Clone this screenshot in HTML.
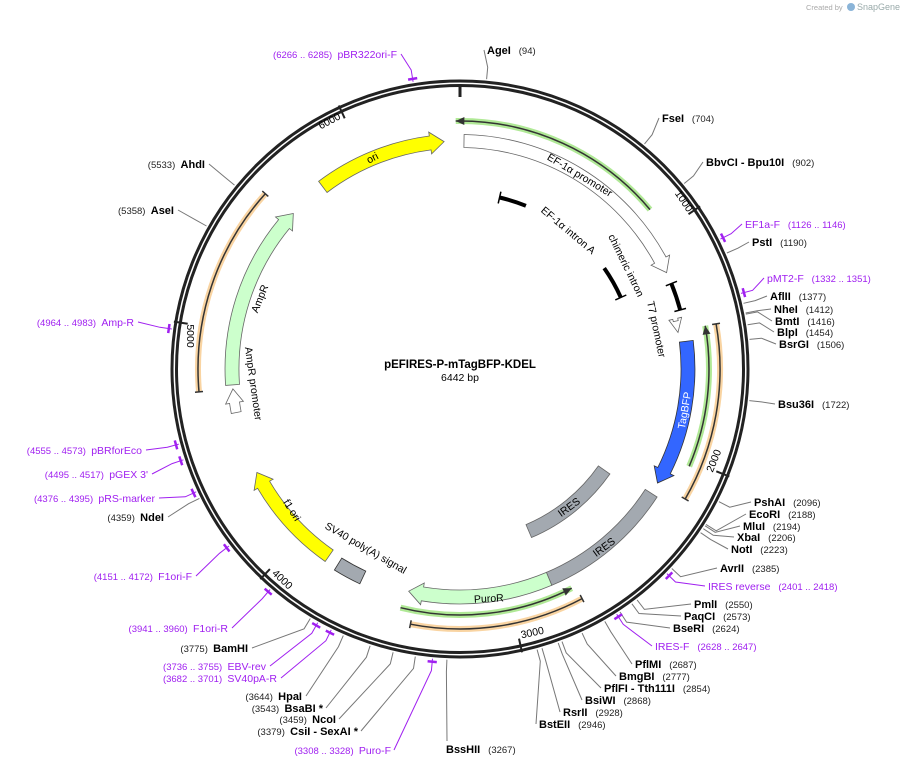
<!DOCTYPE html>
<html><head><meta charset="utf-8"><style>
html,body{margin:0;padding:0;background:#fff;}
svg{display:block;font-family:"Liberation Sans","DejaVu Sans",sans-serif;}
.n{font-weight:bold;font-size:11px;fill:#000}
.b{font-size:9.5px;fill:#222}
.p{font-size:10.5px;fill:#a020f0}
.pn{font-size:9.5px;fill:#a020f0}
.f{font-size:10.5px;fill:#000}
</style></head><body>
<svg id="s" width="903" height="767" viewBox="0 0 903 767" xmlns="http://www.w3.org/2000/svg">
<text x="806" y="10" font-size="7.5" fill="#aaa">Created by</text>
<circle cx="851" cy="7" r="4" fill="#8ab4d8"/>
<text x="857" y="10" font-size="9" fill="#9aa">SnapGene</text>
<g id="lines"></g>
<circle cx="460" cy="369" r="288" fill="none" stroke="#222" stroke-width="3"/>
<circle cx="460" cy="369" r="283.5" fill="none" stroke="#222" stroke-width="3"/>
<g id="feat"></g>
<text x="460" y="368" text-anchor="middle" font-weight="bold" font-size="11.5">pEFIRES-P-mTagBFP-KDEL</text>
<text x="460" y="381" text-anchor="middle" font-size="10.5">6442 bp</text>
<text class="f" transform="translate(578,178) rotate(31)" text-anchor="middle">EF-1α promoter</text>
<text class="f" transform="translate(566,233) rotate(40)" text-anchor="middle">EF-1α intron A</text>
<text class="f" transform="translate(623,267) rotate(64)" text-anchor="middle">chimeric intron</text>
<text class="f" transform="translate(653,330) rotate(78)" text-anchor="middle">T7 promoter</text>
<text class="f" style="fill:#fff" transform="translate(688,411) rotate(-80)" text-anchor="middle">TagBFP</text>
<text class="f" transform="translate(571,510) rotate(-36)" text-anchor="middle">IRES</text>
<text class="f" transform="translate(606,550) rotate(-36)" text-anchor="middle">IRES</text>
<text class="f" transform="translate(489,602) rotate(-3)" text-anchor="middle">PuroR</text>
<text class="f" transform="translate(364,551) rotate(30)" text-anchor="middle">SV40 poly(A) signal</text>
<text class="f" transform="translate(289,512) rotate(58)" text-anchor="middle">f1 ori</text>
<text class="f" transform="translate(263,300) rotate(-68)" text-anchor="middle">AmpR</text>
<text class="f" transform="translate(250,384) rotate(82)" text-anchor="middle">AmpR promoter</text>
<text class="f" transform="translate(374,161) rotate(-28)" text-anchor="middle">ori</text>
<text class="f" transform="translate(681,203) rotate(56)" text-anchor="middle">1000</text>
<text class="f" transform="translate(717,462) rotate(-68)" text-anchor="middle">2000</text>
<text class="f" transform="translate(533,636) rotate(-12)" text-anchor="middle">3000</text>
<text class="f" transform="translate(280,582) rotate(43)" text-anchor="middle">4000</text>
<text class="f" transform="translate(187,336) rotate(90)" text-anchor="middle">5000</text>
<text class="f" transform="translate(331,124) rotate(-28)" text-anchor="middle">6000</text>
<g id="labs"></g>
</svg>
<script>
var NS="http://www.w3.org/2000/svg",CX=460,CY=369;
function P(r,a){a=a*Math.PI/180;return [CX+r*Math.sin(a),CY-r*Math.cos(a)];}
function pt(p){return p[0].toFixed(1)+","+p[1].toFixed(1);}
function el(g,t,at){var e=document.createElementNS(NS,t);for(var k in at)e.setAttribute(k,at[k]);document.getElementById(g).appendChild(e);return e;}
function arc(r,a0,a1){var l=Math.abs(a1-a0)>180?1:0,sw=a1>a0?1:0;return "M"+pt(P(r,a0))+" A"+r+","+r+" 0 "+l+","+sw+" "+pt(P(r,a1));}
function band(r,a0,a1,w,dir,fill,stroke){
 var h=dir?14/r*180/Math.PI:0,ro=r+w/2,ri=r-w/2,d;
 if(dir==1){var e=a1-h;d="M"+pt(P(ro,a0))+arc(ro,a0,e).replace(/^M[^A]*/," ")+" L"+pt(P(ro+4,e))+" L"+pt(P(r,a1))+" L"+pt(P(ri-4,e))+" L"+pt(P(ri,e))+arc(ri,e,a0).replace(/^M[^A]*/," ")+"Z";}
 else if(dir==-1){var s=a0+h;d="M"+pt(P(ro,a1))+arc(ro,a1,s).replace(/^M[^A]*/," ")+" L"+pt(P(ro+4,s))+" L"+pt(P(r,a0))+" L"+pt(P(ri-4,s))+" L"+pt(P(ri,s))+arc(ri,s,a1).replace(/^M[^A]*/," ")+"Z";}
 else{d="M"+pt(P(ro,a0))+arc(ro,a0,a1).replace(/^M[^A]*/," ")+" L"+pt(P(ri,a1))+arc(ri,a1,a0).replace(/^M[^A]*/," ")+"Z";}
 el("feat","path",{d:d,fill:fill,stroke:stroke||"#666","stroke-width":"0.8"});
}
function primer(r,a0,a1,col,dir){
 el("feat","path",{d:arc(r,a0,a1),fill:"none",stroke:col,"stroke-width":"6","stroke-opacity":"0.7"});
 el("feat","path",{d:arc(r,a0,a1),fill:"none",stroke:"#333","stroke-width":"1.5"});
 if(dir){var a=dir==1?a1:a0,b=dir==1?a1-2:a0+2;
  el("feat","path",{d:"M"+pt(P(r+4,b))+" L"+pt(P(r,a))+" L"+pt(P(r-4,b))+"Z",fill:"#333"});}
 else{[a0,a1].forEach(function(a){el("feat","path",{d:"M"+pt(P(r-4,a))+" L"+pt(P(r+4,a)),stroke:"#333","stroke-width":"1.5"});});}
}
function blk(r,a0,a1,g0,g1){
 if(g0){el("feat","path",{d:arc(r,a0,g0),fill:"none",stroke:"#000","stroke-width":"4"});el("feat","path",{d:arc(r,g1,a1),fill:"none",stroke:"#000","stroke-width":"4"});}
 else el("feat","path",{d:arc(r,a0,a1),fill:"none",stroke:"#000","stroke-width":"4"});
 [a0,a1].forEach(function(a){el("feat","path",{d:"M"+pt(P(r-6,a))+" L"+pt(P(r+6,a)),stroke:"#000","stroke-width":"1.5"});});}
primer(248,-1,50,"#8ee06a",-1);
band(228,1,65,13,1,"#fff","#666");
blk(176,13,66,22,55);
blk(228,68,75);
band(221,77.5,80.5,5,1,"#fff","#666");
band(228,83,120,14,1,"#3366ff","#333");
primer(249,80,113,"#8ee06a",-1);
primer(260,80,120,"#f7c27a",0);
band(176,125,157,14,0,"#a3a9b0","#666");
band(228,123,157,14,0,"#a3a9b0","#666");
band(228,157,193,14,1,"#ccffcc","#666");
primer(246,153,194,"#8ee06a",-1);
primer(260,152,191,"#f7c27a",0);
band(230,205,212,14,0,"#a3a9b0","#333");
band(228,215,243,14,1,"#ffff00","#666");
band(228,266,313,14,1,"#ccffcc","#666");
band(228,259,265,10,1,"#fff","#666");
primer(262,265,312,"#f7c27a",0);
band(228,323,356,14,1,"#ffff00","#666");
el("feat","path",{d:"M460,84 L460,97",stroke:"#222","stroke-width":"3"});
[1000,2000,3000,4000,5000,6000].forEach(function(b){var a=b/6442*360;el("feat","path",{d:"M"+pt(P(276,a))+" L"+pt(P(290,a)),stroke:"#222","stroke-width":"2"});});
var L=[
[94,487,54,"AgeI","(94)",1],[704,662,122,"FseI","(704)",1],[902,706,166,"BbvCI  - Bpu10I","(902)",1],
[1136,745,228,"EF1a-F","(1126 .. 1146)",1,1],[1190,752,246,"PstI","(1190)",1],[1341,767,282,"pMT2-F","(1332 .. 1351)",1,1],
[1377,770,300,"AflII","(1377)",1],[1412,774,313,"NheI","(1412)",1],[1416,775,325,"BmtI","(1416)",1],[1454,777,336,"BlpI","(1454)",1],[1506,779,348,"BsrGI","(1506)",1],
[1722,778,408,"Bsu36I","(1722)",1],[2096,754,506,"PshAI","(2096)",1],[2188,749,518,"EcoRI","(2188)",1],[2194,743,530,"MluI","(2194)",1],[2206,737,541,"XbaI","(2206)",1],[2223,731,553,"NotI","(2223)",1],
[2385,720,572,"AvrII","(2385)",1],[2410,708,590,"IRES reverse","(2401 .. 2418)",1,1],[2550,694,608,"PmlI","(2550)",1],[2573,684,620,"PaqCI","(2573)",1],[2624,673,632,"BseRI","(2624)",1],
[2638,655,650,"IRES-F","(2628 .. 2647)",1,1],[2687,635,668,"PflMI","(2687)",1],[2777,619,680,"BmgBI","(2777)",1],[2854,604,692,"PflFI  - Tth111I","(2854)",1],[2868,585,704,"BsiWI","(2868)",1],[2928,563,716,"RsrII","(2928)",1],[2946,539,728,"BstEII","(2946)",1],
[3267,446,753,"BssHII","(3267)",1],
[6276,397,58,"pBR322ori-F","(6266 .. 6285)",-1,1],[5533,205,168,"AhdI","(5533)",-1],[5358,174,214,"AseI","(5358)",-1],[4973,134,326,"Amp-R","(4964 .. 4983)",-1,1],
[4564,142,454,"pBRforEco","(4555 .. 4573)",-1,1],[4506,148,478,"pGEX 3'","(4495 .. 4517)",-1,1],[4385,155,502,"pRS-marker","(4376 .. 4395)",-1,1],[4359,164,521,"NdeI","(4359)",-1],
[4161,192,580,"F1ori-F","(4151 .. 4172)",-1,1],[3950,228,632,"F1ori-R","(3941 .. 3960)",-1,1],[3775,248,652,"BamHI","(3775)",-1],[3745,266,670,"EBV-rev","(3736 .. 3755)",-1,1],[3691,277,682,"SV40pA-R","(3682 .. 3701)",-1,1],
[3644,302,700,"HpaI","(3644)",-1],[3543,323,712,"BsaBI *","(3543)",-1],[3459,336,723,"NcoI","(3459)",-1],[3379,358,735,"CsiI  - SexAI *","(3379)",-1],[3318,391,754,"Puro-F","(3308 .. 3328)",-1,1]];
L.forEach(function(l){
 var a=l[0]/6442*360,pu=l[6],col=pu?"#a020f0":"#777";
 var p1=P(291,a),p2=P(303,a),ex=l[5]==1?l[1]-3:l[2]>700&&l[1]>250?l[1]+3:l[1]+4,ey=l[2]-4;
 if(l[0]==3267){ex=447;ey=741;}
 el("lines","path",{d:"M"+pt(p1)+" L"+pt(p2)+" L"+ex+","+ey,fill:"none",stroke:col,"stroke-width":"1"});
 if(pu){var q1=P(294,a-0.9),q2=P(294,a+0.9);el("feat","path",{d:"M"+pt(q1)+" L"+pt(q2),stroke:"#a020f0","stroke-width":"2.5"});}
 var t=el("labs","text",{x:l[1],y:l[2]});
 var s1=document.createElementNS(NS,"tspan"),s2=document.createElementNS(NS,"tspan");
 s1.setAttribute("class",pu?"p":"n");s2.setAttribute("class",pu?"pn":"b");
 if(l[5]==1){s1.textContent=l[3];s2.textContent="\u00a0\u00a0\u00a0"+l[4];t.appendChild(s1);t.appendChild(s2);}
 else{t.setAttribute("text-anchor","end");s2.textContent=l[4]+"\u00a0\u00a0";s1.textContent=l[3];t.appendChild(s2);t.appendChild(s1);}
});
</script>
</body></html>
